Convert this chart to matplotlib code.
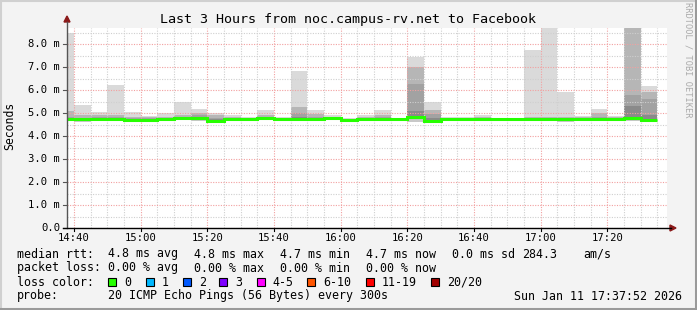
import numpy as np
import matplotlib
matplotlib.use("Agg")
import matplotlib.pyplot as plt
from matplotlib.patches import Polygon, Rectangle
from matplotlib.lines import Line2D

# ---------------- data ----------------
title = "Last 3 Hours from noc.campus-rv.net to Facebook"
x_tick_labels = ["14:40", "15:00", "15:20", "15:40", "16:00", "16:20", "16:40", "17:00", "17:20"]
y_tick_values = [0, 1, 2, 3, 4, 5, 6, 7, 8]
y_tick_labels = ["0.0", "1.0 m", "2.0 m", "3.0 m", "4.0 m", "5.0 m", "6.0 m", "7.0 m", "8.0 m"]

# 5-minute intervals (end times), first ends at 14:40
interval_end = ["14:40", "14:45", "14:50", "14:55", "15:00", "15:05", "15:10", "15:15", "15:20",
                "15:25", "15:30", "15:35", "15:40", "15:45", "15:50", "15:55", "16:00", "16:05",
                "16:10", "16:15", "16:20", "16:25", "16:30", "16:35", "16:40", "16:45", "16:50",
                "16:55", "17:00", "17:05", "17:10", "17:15", "17:20", "17:25", "17:30", "17:35"]

# values in ms
median_rtt = [4.74, 4.72, 4.74, 4.74, 4.70, 4.71, 4.74, 4.80, 4.77, 4.67, 4.72, 4.72,
              4.77, 4.74, 4.74, 4.74, 4.77, 4.71, 4.72, 4.74, 4.74, 4.81, 4.67, 4.72,
              4.75, 4.74, 4.74, 4.74, 4.74, 4.74, 4.74, 4.75, 4.75, 4.74, 4.77, 4.71]
smoke_min = [4.64, 4.62, 4.66, 4.64, 4.62, 4.62, 4.66, 4.70, 4.66, 4.60, 4.66, 4.66,
             4.68, 4.66, 4.66, 4.66, 4.68, 4.66, 4.64, 4.64, 4.66, 4.62, 4.60, 4.64,
             4.66, 4.64, 4.66, 4.66, 4.64, 4.64, 4.62, 4.66, 4.66, 4.66, 4.64, 4.60]
smoke_max = [8.47, 5.35, 5.03, 6.22, 5.03, 4.88, 4.99, 5.49, 5.17, 5.00, 4.90, 4.83,
             5.13, 4.83, 6.84, 5.13, 4.90, 4.78, 4.92, 5.13, 4.80, 7.45, 5.49, 4.83,
             4.84, 4.92, 4.78, 4.78, 7.74, 8.75, 5.93, 4.86, 5.17, 4.86, 8.75, 6.19]
smoke_q1 = [5.10, 4.90, 4.93, 4.90, 4.85, 4.82, 4.85, 4.90, 5.00, 4.90, 4.82, 4.80,
            4.90, 4.80, 5.27, 4.95, 4.85, 4.76, 4.85, 4.90, 4.78, 7.01, 5.13, 4.78,
            4.80, 4.85, 4.76, 4.76, 4.85, 4.85, 4.85, 4.82, 5.00, 4.82, 8.75, 5.93]
smoke_q2 = [4.85, 4.80, 4.82, 4.82, 4.78, 4.78, 4.80, 4.85, 4.90, 4.80, 4.78, 4.77,
            4.83, 4.77, 5.00, 4.85, 4.80, 4.74, 4.78, 4.82, 4.76, 6.26, 4.95, 4.75,
            4.77, 4.80, 4.75, 4.75, 4.80, 4.80, 4.79, 4.80, 4.84, 4.79, 5.78, 5.60]
smoke_q3 = [4.80, 4.76, 4.76, 4.76, 4.72, 4.73, 4.76, 4.82, 4.82, 4.72, 4.74, 4.74,
            4.79, 4.75, 4.85, 4.77, 4.78, 4.72, 4.74, 4.76, 4.75, 5.10, 4.80, 4.73,
            4.75, 4.76, 4.74, 4.74, 4.76, 4.76, 4.76, 4.77, 4.78, 4.76, 5.30, 4.90]

loss_labels = ["0", "1", "2", "3", "4-5", "6-10", "11-19", "20/20"]
loss_colors = ["#26ff00", "#00b8ff", "#0059ff", "#7e00ff", "#ff00ff", "#ff5500", "#ff0000", "#a10000"]

# ---------------- figure ----------------
W, H = 697, 310
fig = plt.figure(figsize=(W / 100, H / 100), dpi=100, facecolor="#f3f3f3")


def px(x, y):
    return x / W, 1 - y / H


mono = "DejaVu Sans Mono"

# plot area in pixels
L, R, T, B = 67, 667, 28, 228
ax = fig.add_axes([L / W, (H - B) / H, (R - L) / W, (B - T) / H])
ax.set_facecolor("white")


def tmin(s):
    h, m = s.split(":")
    return (int(h) - 14) * 60 + int(m) - 40


ends = np.array([tmin(s) for s in interval_end], dtype=float)
starts = ends - 5
x0 = -2.133
x1 = x0 + 180
ax.set_xlim(x0, x1)
ax.set_ylim(0, 8.7)

med = np.array(median_rtt)
layers = [(smoke_max, "#dadada"), (smoke_q1, "#b6b6b6"), (smoke_q2, "#a2a2a2"), (smoke_q3, "#8a8a8a")]
# lower smoke
ax.bar(starts, med - np.array(smoke_min), bottom=smoke_min, width=5, align="edge",
       color="#c8c8c8", linewidth=0, zorder=1)
for vals, col in layers:
    v = np.array(vals)
    h = np.clip(v - med, 0, None)
    ax.bar(starts, h, bottom=med, width=5, align="edge", color=col, linewidth=0, zorder=1)

edges = np.concatenate([starts[:1], ends])
ax.stairs(med, edges, baseline=None, color="#26ff00", linewidth=2.2, zorder=4)

# grid
ax.set_xticks(np.arange(0, 180, 20))
ax.set_xticks(np.arange(-0, 180, 5), minor=True)
ax.set_yticks(y_tick_values)
ax.set_yticks(np.arange(0.5, 8.7, 0.5), minor=True)
ax.set_axisbelow(False)
ax.grid(which="minor", color="#cfcfcf", linewidth=0.8, linestyle=(0, (1, 1.3)), zorder=3)
ax.grid(which="major", color="#f2a0a0", linewidth=0.8, linestyle=(0, (1, 1.3)), zorder=3)
ax.tick_params(which="both", length=0, labelleft=False, labelbottom=False)
for s in ax.spines.values():
    s.set_visible(False)

# tick labels
for v, lab in zip(y_tick_values, y_tick_labels):
    y = B - v * (B - T) / 8.7
    fig.text(*px(60, y), lab, ha="right", va="center", family=mono, fontsize=7.6, color="#000000")
    fig.add_artist(Line2D([px(63, y)[0], px(67, y)[0]], [px(63, y)[1]] * 2, color="#555555", lw=0.8))
for i, lab in enumerate(x_tick_labels):
    x = L + (i * 20 - x0) * (R - L) / 180
    fig.text(*px(x, 238), lab, ha="center", va="center", family=mono, fontsize=7.6, color="#000000")
    fig.add_artist(Line2D([px(x, 0)[0]] * 2, [px(0, 228)[1], px(0, 231)[1]], color="#000000", lw=0.8))

# axes lines with arrows
fig.add_artist(Line2D([px(67, 0)[0]] * 2, [px(0, 228)[1], px(0, 22)[1]], color="#555555", lw=1.0))
fig.add_artist(Line2D([px(63, 0)[0], px(671, 0)[0]], [px(0, 228)[1]] * 2, color="#000000", lw=1.0))
fig.add_artist(Polygon([px(64, 22), px(70, 22), px(67, 16)], closed=True, color="#8b1a1a",
                       transform=fig.transFigure))
fig.add_artist(Polygon([px(670, 225), px(670, 231), px(676, 228)], closed=True, color="#8b1a1a",
                       transform=fig.transFigure))

# title and labels
fig.text(*px(348, 19), title, ha="center", va="center", family=mono, fontsize=9.6, color="#000000")
fig.text(*px(10, 126), "Seconds", ha="center", va="center", rotation=90, family=mono,
         fontsize=8.3, color="#000000")
fig.text(*px(688, 60), "RRDTOOL / TOBI OETIKER", ha="center", va="center", rotation=270,
         family=mono, fontsize=6.2, color="#aaaaaa")

# legend rows
fs = 8.4
fig.text(*px(17, 254), "median rtt:", ha="left", va="center", family=mono, fontsize=fs)
row1 = [(108, "4.8 ms avg"), (194, "4.8 ms max"), (280, "4.7 ms min"), (366, "4.7 ms now"),
        (452, "0.0 ms sd"), (522, "284.3"), (583, "am/s")]
for x, t in row1:
    fig.text(*px(x, 254), t, ha="left", va="center", family=mono, fontsize=fs)
fig.text(*px(17, 268), "packet loss:", ha="left", va="center", family=mono, fontsize=fs)
row2 = [(108, "0.00 % avg"), (194, "0.00 % max"), (280, "0.00 % min"), (366, "0.00 % now")]
for x, t in row2:
    fig.text(*px(x, 268), t, ha="left", va="center", family=mono, fontsize=fs)
fig.text(*px(17, 282), "loss color:", ha="left", va="center", family=mono, fontsize=fs)
box_x = [108, 145.7, 182.7, 219, 256.7, 307, 365.7, 430.7]
for bx, lab, col in zip(box_x, loss_labels, loss_colors):
    fig.add_artist(Rectangle(px(bx, 286), 8 / W, 8 / H, facecolor=col, edgecolor="#000000",
                             linewidth=0.8, transform=fig.transFigure))
    fig.text(*px(bx + 16, 282), lab, ha="left", va="center", family=mono, fontsize=fs)
fig.text(*px(17, 296), "probe:", ha="left", va="center", family=mono, fontsize=fs)
fig.text(*px(108, 296), "20 ICMP Echo Pings (56 Bytes) every 300s", ha="left", va="center",
         family=mono, fontsize=fs)
fig.text(*px(682, 296), "Sun Jan 11 17:37:52 2026", ha="right", va="center", family=mono, fontsize=fs)

# 3D frame
fig.add_artist(Line2D([0, 1], [px(0, 1)[1]] * 2, color="#d0d0d0", lw=1.5))
fig.add_artist(Line2D([px(1, 0)[0]] * 2, [0, 1], color="#d0d0d0", lw=1.5))
fig.add_artist(Line2D([0, 1], [px(0, 308.5)[1]] * 2, color="#9a9a9a", lw=2.2))
fig.add_artist(Line2D([px(695.5, 0)[0]] * 2, [0, 1], color="#9a9a9a", lw=2.2))

fig.savefig("out.png", dpi=100, facecolor=fig.get_facecolor())
